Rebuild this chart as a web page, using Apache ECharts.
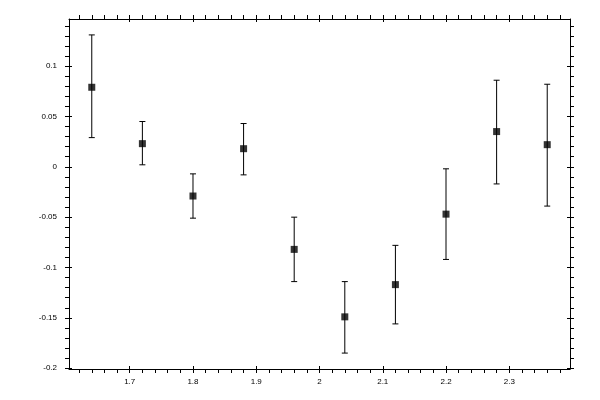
<!DOCTYPE html>
<html>
<head>
<meta charset="utf-8">
<script src="https://cdn.jsdelivr.net/npm/echarts@6/dist/echarts.min.js"></script>
<style>html,body{margin:0;padding:0;background:#fff}#c{width:600px;height:400px}</style>
</head>
<body>
<div id="c"></div>
<script>
// data
var xValues = [1.64, 1.72, 1.80, 1.88, 1.96, 2.04, 2.12, 2.20, 2.28, 2.36];
var yValues = [0.079, 0.023, -0.029, 0.018, -0.082, -0.149, -0.117, -0.047, 0.035, 0.022];
var yHigh   = [0.131, 0.045, -0.007, 0.043, -0.050, -0.114, -0.078, -0.002, 0.086, 0.082];
var yLow    = [0.029, 0.002, -0.051, -0.008, -0.114, -0.185, -0.156, -0.092, -0.017, -0.039];

// tick labels / tick positions
var xMajorTicks = [1.7, 1.8, 1.9, 2.0, 2.1, 2.2, 2.3];
var xAllTicks = [1.62, 1.64, 1.66, 1.68, 1.7, 1.72, 1.74, 1.76, 1.78, 1.8, 1.82, 1.84, 1.86, 1.88, 1.9,
  1.92, 1.94, 1.96, 1.98, 2.0, 2.02, 2.04, 2.06, 2.08, 2.1, 2.12, 2.14, 2.16, 2.18, 2.2,
  2.22, 2.24, 2.26, 2.28, 2.3, 2.32, 2.34, 2.36, 2.38];
var yMajorTicks = [-0.2, -0.15, -0.1, -0.05, 0, 0.05, 0.1];
var yAllTicks = [-0.2, -0.19, -0.18, -0.17, -0.16, -0.15, -0.14, -0.13, -0.12, -0.11, -0.1,
  -0.09, -0.08, -0.07, -0.06, -0.05, -0.04, -0.03, -0.02, -0.01, 0,
  0.01, 0.02, 0.03, 0.04, 0.05, 0.06, 0.07, 0.08, 0.09, 0.1, 0.11, 0.12, 0.13, 0.14];

var xMin = 1.604, xMax = 2.396;
var yMin = -0.2008, yMax = 0.1468;

var pointData = xValues.map(function (x, i) { return [x, yValues[i]]; });
var errData = xValues.map(function (x, i) { return [x, yLow[i], yHigh[i]]; });

var black = '#000';
var font = { fontFamily: 'Liberation Sans, Arial, sans-serif', fontSize: 8, color: black };

function mkAxis(pos, min, max, ticks, inside, len, labels, showLine) {
  return {
    type: 'value', position: pos, min: min, max: max,
    axisLine: { show: showLine, onZero: false, lineStyle: { color: black, width: 1 } },
    axisTick: { show: true, inside: inside, length: len, customValues: ticks,
      lineStyle: { color: black, width: 1 } },
    axisLabel: labels ? Object.assign({ show: true, customValues: labels,
      margin: (pos === 'left' ? 12 : 9) }, font) : { show: false },
    splitLine: { show: false },
    minorTick: { show: false }
  };
}

var chart = echarts.init(document.getElementById('c'), null, { renderer: 'canvas' });
chart.setOption({
  animation: false,
  backgroundColor: '#fff',
  grid: { left: 69, right: 30, top: 19, bottom: 31, containLabel: false },
  xAxis: [
    mkAxis('bottom', xMin, xMax, xAllTicks, false, 4, xMajorTicks, true),
    mkAxis('bottom', xMin, xMax, xMajorTicks, true, 3, null, false),
    mkAxis('top', xMin, xMax, xAllTicks, false, 4, null, true),
    mkAxis('top', xMin, xMax, xMajorTicks, true, 3, null, false)
  ],
  yAxis: [
    mkAxis('left', yMin, yMax, yAllTicks, false, 4, yMajorTicks, true),
    mkAxis('left', yMin, yMax, yMajorTicks, true, 3, null, false),
    mkAxis('right', yMin, yMax, yAllTicks, false, 4, null, true),
    mkAxis('right', yMin, yMax, yMajorTicks, true, 3, null, false)
  ],
  series: [
    {
      type: 'custom',
      xAxisIndex: 0, yAxisIndex: 0,
      data: errData,
      z: 2,
      renderItem: function (params, api) {
        var x = api.value(0);
        var lo = api.coord([x, api.value(1)]);
        var hi = api.coord([x, api.value(2)]);
        var cap = 3;
        var style = { stroke: black, lineWidth: 1, fill: null };
        return {
          type: 'group',
          children: [
            { type: 'line', shape: { x1: lo[0], y1: lo[1], x2: hi[0], y2: hi[1] }, style: style },
            { type: 'line', shape: { x1: lo[0] - cap, y1: lo[1], x2: lo[0] + cap, y2: lo[1] }, style: style },
            { type: 'line', shape: { x1: hi[0] - cap, y1: hi[1], x2: hi[0] + cap, y2: hi[1] }, style: style }
          ]
        };
      }
    },
    {
      type: 'scatter',
      xAxisIndex: 0, yAxisIndex: 0,
      data: pointData,
      symbol: 'rect',
      symbolSize: 7,
      itemStyle: { color: black },
      z: 3
    }
  ]
});
</script>
</body>
</html>
